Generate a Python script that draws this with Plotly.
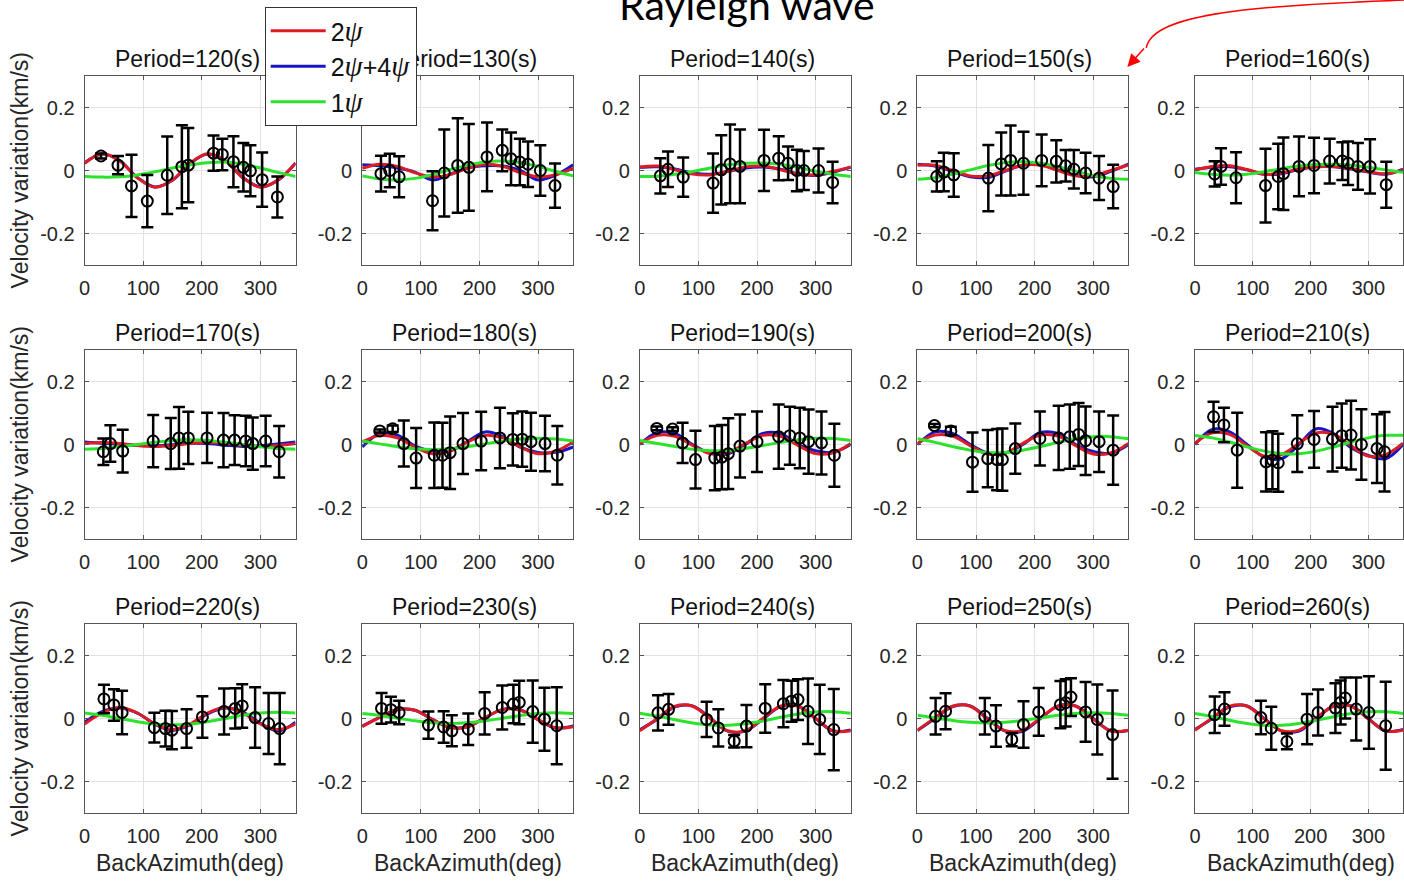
import plotly.graph_objects as go

W, H = 1404, 881

PERIODS = [120, 130, 140, 150, 160, 170, 180, 190, 200, 210, 220, 230, 240, 250, 260]
CURVE_BAZ = [0, 30, 60, 90, 120, 150, 180, 210, 240, 270, 300, 330, 360]
X_TICKS = [0, 100, 200, 300]
Y_TICKS = [-0.2, 0, 0.2]
Y_TICK_TEXT = ["-0.2", "0", "0.2"]

# ---- measured points: back azimuth (deg), velocity variation (km/s), error (km/s)
baz_120 = [28, 57, 80, 107, 141, 166, 177, 220, 235, 254, 271, 283, 303, 329]
dv_120 = [0.046, 0.017, -0.049, -0.097, -0.015, 0.012, 0.017, 0.055, 0.051, 0.028, 0.01, -0.001, -0.029, -0.084]
err_120 = [0.008, 0.029, 0.099, 0.083, 0.123, 0.132, 0.118, 0.056, 0.05, 0.081, 0.077, 0.081, 0.086, 0.065]

baz_130 = [32, 47, 63, 120, 140, 163, 182, 213, 239, 254, 269, 283, 304, 329]
dv_130 = [-0.01, 0.0, -0.02, -0.096, -0.008, 0.016, 0.01, 0.043, 0.064, 0.037, 0.027, 0.02, 0.0, -0.048]
err_130 = [0.057, 0.053, 0.065, 0.094, 0.138, 0.15, 0.138, 0.109, 0.066, 0.084, 0.074, 0.072, 0.08, 0.07]

baz_140 = [35, 48, 74, 125, 139, 154, 171, 212, 237, 253, 268, 280, 305, 329]
dv_140 = [-0.017, 0.004, -0.021, -0.04, 0.002, 0.021, 0.013, 0.032, 0.039, 0.023, 0.0, 0.0, 0.0, -0.038]
err_140 = [0.056, 0.056, 0.062, 0.094, 0.11, 0.125, 0.117, 0.097, 0.07, 0.053, 0.066, 0.062, 0.07, 0.066]

baz_150 = [33, 45, 62, 121, 143, 159, 181, 212, 237, 253, 267, 287, 310, 334]
dv_150 = [-0.019, -0.005, -0.014, -0.024, 0.021, 0.032, 0.023, 0.032, 0.029, 0.015, 0.004, -0.008, -0.024, -0.051]
err_150 = [0.048, 0.061, 0.069, 0.105, 0.1, 0.111, 0.1, 0.082, 0.067, 0.05, 0.061, 0.064, 0.07, 0.069]

baz_160 = [34, 45, 71, 122, 144, 153, 180, 206, 233, 255, 265, 282, 303, 331]
dv_160 = [-0.011, 0.013, -0.023, -0.048, -0.019, -0.01, 0.013, 0.016, 0.03, 0.03, 0.023, 0.013, 0.013, -0.045]
err_160 = [0.04, 0.058, 0.081, 0.117, 0.104, 0.115, 0.095, 0.088, 0.071, 0.06, 0.069, 0.074, 0.086, 0.073]

baz_170 = [32, 44, 65, 117, 147, 161, 177, 209, 237, 256, 275, 287, 309, 332]
dv_170 = [-0.023, 0.003, -0.021, 0.011, 0.003, 0.021, 0.021, 0.021, 0.014, 0.014, 0.011, 0.003, 0.011, -0.023]
err_170 = [0.042, 0.058, 0.068, 0.083, 0.081, 0.098, 0.083, 0.08, 0.086, 0.079, 0.08, 0.083, 0.08, 0.082]

baz_180 = [30, 52, 71, 92, 123, 137, 150, 172, 203, 235, 257, 273, 288, 312, 333]
dv_180 = [0.043, 0.05, 0.003, -0.043, -0.034, -0.034, -0.026, 0.003, 0.011, 0.021, 0.016, 0.017, 0.009, 0.003, -0.034]
err_180 = [0.005, 0.01, 0.073, 0.095, 0.104, 0.103, 0.115, 0.097, 0.093, 0.096, 0.083, 0.088, 0.092, 0.088, 0.093]

baz_190 = [29, 56, 73, 95, 128, 140, 151, 171, 200, 237, 256, 273, 288, 310, 332]
dv_190 = [0.051, 0.049, 0.005, -0.048, -0.043, -0.04, -0.029, -0.005, 0.009, 0.025, 0.028, 0.021, 0.009, 0.005, -0.034]
err_190 = [0.006, 0.006, 0.064, 0.092, 0.102, 0.102, 0.112, 0.1, 0.096, 0.102, 0.092, 0.096, 0.102, 0.1, 0.1]

baz_200 = [29, 57, 94, 120, 136, 145, 167, 209, 241, 260, 275, 287, 310, 334]
dv_200 = [0.06, 0.043, -0.056, -0.045, -0.048, -0.048, -0.013, 0.019, 0.021, 0.025, 0.032, 0.012, 0.009, -0.018]
err_200 = [0.005, 0.013, 0.094, 0.091, 0.097, 0.099, 0.08, 0.086, 0.102, 0.102, 0.1, 0.109, 0.096, 0.11]

baz_210 = [32, 50, 73, 123, 134, 144, 177, 206, 238, 254, 270, 288, 315, 328]
dv_210 = [0.088, 0.062, -0.018, -0.055, -0.05, -0.058, 0.003, 0.016, 0.017, 0.028, 0.03, 0.0, -0.013, -0.023]
err_210 = [0.048, 0.055, 0.119, 0.094, 0.092, 0.092, 0.09, 0.09, 0.103, 0.102, 0.109, 0.112, 0.109, 0.126]

baz_220 = [33, 50, 64, 119, 138, 149, 174, 201, 238, 257, 269, 291, 314, 333]
dv_220 = [0.062, 0.043, 0.019, -0.029, -0.032, -0.037, -0.032, 0.005, 0.022, 0.032, 0.04, 0.003, -0.016, -0.032]
err_220 = [0.045, 0.05, 0.069, 0.047, 0.057, 0.061, 0.061, 0.066, 0.073, 0.064, 0.069, 0.096, 0.097, 0.113]

baz_230 = [33, 49, 63, 113, 139, 153, 181, 209, 239, 258, 268, 291, 311, 332]
dv_230 = [0.032, 0.028, 0.019, -0.021, -0.027, -0.039, -0.034, 0.016, 0.035, 0.046, 0.051, 0.022, -0.002, -0.023]
err_230 = [0.049, 0.041, 0.037, 0.043, 0.05, 0.049, 0.05, 0.067, 0.07, 0.061, 0.069, 0.099, 0.1, 0.122]

baz_240 = [31, 49, 114, 134, 161, 182, 214, 245, 259, 270, 287, 307, 331]
dv_240 = [0.018, 0.029, -0.003, -0.03, -0.072, -0.024, 0.032, 0.047, 0.055, 0.06, 0.023, -0.003, -0.035]
err_240 = [0.056, 0.049, 0.056, 0.059, 0.02, 0.067, 0.077, 0.075, 0.065, 0.065, 0.104, 0.11, 0.129]

baz_250 = [31, 48, 115, 134, 161, 181, 207, 244, 253, 262, 287, 307, 333]
dv_250 = [0.007, 0.023, 0.007, -0.024, -0.067, -0.019, 0.021, 0.044, 0.05, 0.068, 0.021, -0.003, -0.051]
err_250 = [0.058, 0.057, 0.058, 0.066, 0.021, 0.074, 0.076, 0.075, 0.075, 0.06, 0.095, 0.111, 0.14]

baz_260 = [34, 51, 114, 132, 159, 194, 213, 243, 252, 260, 279, 301, 330]
dv_260 = [0.012, 0.03, 0.003, -0.031, -0.073, -0.002, 0.019, 0.033, 0.051, 0.065, 0.03, 0.019, -0.023]
err_260 = [0.058, 0.053, 0.053, 0.068, 0.025, 0.08, 0.073, 0.079, 0.07, 0.065, 0.1, 0.115, 0.14]

# ---- fitted curves read at CURVE_BAZ: 2psi (red), 2psi+4psi (blue), 1psi (green)
fit2_120 = [0.023, 0.053, 0.03, -0.023, -0.053, -0.03, 0.023, 0.053, 0.03, -0.023, -0.053, -0.03, 0.023]
fit24_120 = [0.024, 0.052, 0.031, -0.022, -0.052, -0.031, 0.022, 0.052, 0.031, -0.022, -0.052, -0.031, 0.024]
fit1_120 = [-0.019, -0.021, -0.02, -0.014, -0.004, 0.008, 0.018, 0.025, 0.027, 0.02, 0.008, -0.006, -0.019]

fit2_130 = [0.007, 0.02, 0.013, -0.007, -0.02, -0.013, 0.007, 0.02, 0.013, -0.007, -0.02, -0.013, 0.007]
fit24_130 = [0.018, 0.015, 0.008, -0.005, -0.03, -0.012, 0.008, 0.015, 0.014, 0.0, -0.03, -0.015, 0.018]
fit1_130 = [-0.017, -0.027, -0.03, -0.025, -0.013, 0.003, 0.017, 0.027, 0.03, 0.025, 0.013, -0.003, -0.017]

fit2_140 = [0.0115, 0.014, 0.0026, -0.0115, -0.014, -0.0026, 0.0115, 0.014, 0.0026, -0.0115, -0.014, -0.0026, 0.0115]
fit24_140 = [0.01, 0.012, 0.005, -0.008, -0.012, -0.003, 0.008, 0.011, 0.004, -0.01, -0.016, -0.005, 0.01]
fit1_140 = [-0.019, -0.018, -0.012, -0.003, 0.008, 0.018, 0.023, 0.024, 0.02, 0.01, -0.002, -0.012, -0.019]

fit2_150 = [0.017, 0.017, 0.0, -0.017, -0.017, 0.0, 0.017, 0.017, 0.0, -0.017, -0.017, 0.0, 0.017]
fit24_150 = [0.02, 0.014, -0.003, -0.02, -0.022, -0.002, 0.017, 0.018, 0.002, -0.015, -0.02, -0.003, 0.02]
fit1_150 = [-0.028, -0.023, -0.012, 0.002, 0.016, 0.025, 0.028, 0.023, 0.012, -0.002, -0.016, -0.025, -0.028]

fit2_160 = [0.002, 0.013, 0.015, 0.003, -0.012, -0.008, 0.005, 0.012, 0.013, 0.006, -0.004, -0.01, 0.002]
fit24_160 = [0.004, 0.01, 0.012, 0.002, -0.012, -0.01, 0.004, 0.012, 0.012, 0.005, -0.005, -0.012, 0.004]
fit1_160 = [-0.006, -0.012, -0.015, -0.012, -0.004, 0.006, 0.014, 0.019, 0.02, 0.017, 0.01, 0.002, -0.006]

fit2_170 = [0.003, 0.006, 0.003, -0.003, -0.006, -0.003, 0.003, 0.006, 0.003, -0.003, -0.006, -0.003, 0.003]
fit24_170 = [0.008, 0.004, 0.001, -0.003, -0.004, -0.001, 0.004, 0.003, -0.002, -0.006, -0.004, 0.002, 0.008]
fit1_170 = [-0.015, -0.013, -0.0075, 0.0, 0.0075, 0.013, 0.015, 0.013, 0.0075, 0.0, -0.0075, -0.013, -0.015]

fit2_180 = [0.008, 0.029, 0.021, -0.008, -0.029, -0.021, 0.008, 0.029, 0.021, -0.008, -0.029, -0.021, 0.008]
fit24_180 = [-0.008, 0.035, 0.03, -0.005, -0.02, -0.02, 0.01, 0.04, 0.025, -0.008, -0.025, -0.025, -0.008]
fit1_180 = [0.011, 0.002, -0.007, -0.0136, -0.016, -0.0136, -0.007, 0.002, 0.011, 0.0176, 0.02, 0.0176, 0.011]

fit2_190 = [0.003, 0.029, 0.026, -0.003, -0.029, -0.026, 0.003, 0.029, 0.026, -0.003, -0.029, -0.026, 0.003]
fit24_190 = [0.0, 0.038, 0.035, 0.0, -0.028, -0.03, 0.0, 0.035, 0.035, 0.0, -0.02, -0.025, 0.0]
fit1_190 = [0.013, 0.0035, -0.0068, -0.015, -0.0197, -0.0188, -0.0129, -0.0035, 0.0068, 0.0153, 0.0197, 0.0188, 0.013]

fit2_200 = [0.0035, 0.03, 0.027, -0.0035, -0.03, -0.027, 0.0035, 0.03, 0.027, -0.0035, -0.03, -0.027, 0.0035]
fit24_200 = [0.0, 0.04, 0.035, 0.0, -0.027, -0.027, 0.0, 0.038, 0.035, 0.0, -0.022, -0.028, 0.0]
fit1_200 = [0.018, 0.0067, -0.0067, -0.018, -0.025, -0.025, -0.018, -0.0067, 0.0067, 0.018, 0.025, 0.025, 0.018]

fit2_210 = [0.004, 0.037, 0.032, -0.004, -0.037, -0.032, 0.004, 0.037, 0.032, -0.004, -0.037, -0.032, 0.004]
fit24_210 = [0.0, 0.048, 0.04, 0.0, -0.04, -0.045, 0.0, 0.05, 0.035, -0.01, -0.035, -0.045, 0.0]
fit1_210 = [0.029, 0.021, 0.0078, -0.0078, -0.021, -0.029, -0.029, -0.021, -0.0078, 0.0078, 0.021, 0.029, 0.029]

fit2_220 = [-0.0175, 0.0175, 0.035, 0.0175, -0.0175, -0.035, -0.0175, 0.0175, 0.035, 0.0175, -0.0175, -0.035, -0.0175]
fit24_220 = [-0.012, 0.022, 0.033, 0.017, -0.018, -0.038, -0.02, 0.015, 0.033, 0.02, -0.015, -0.04, -0.012]
fit1_220 = [0.0173, 0.01, 0.0, -0.01, -0.0173, -0.02, -0.0173, -0.01, 0.0, 0.01, 0.0173, 0.02, 0.0173]

fit2_230 = [-0.026, 0.0034, 0.029, 0.026, -0.0034, -0.029, -0.026, 0.0034, 0.029, 0.026, -0.0034, -0.029, -0.026]
fit24_230 = [-0.024, 0.004, 0.028, 0.026, -0.003, -0.028, -0.026, 0.003, 0.029, 0.027, -0.004, -0.03, -0.024]
fit1_230 = [0.0157, 0.0095, 0.001, -0.0075, -0.0137, -0.016, -0.0137, -0.0075, 0.001, 0.0095, 0.0157, 0.018, 0.0157]

fit2_240 = [-0.039, 0.0, 0.039, 0.039, 0.0, -0.039, -0.039, 0.0, 0.039, 0.039, 0.0, -0.039, -0.039]
fit24_240 = [-0.036, -0.002, 0.037, 0.04, 0.002, -0.04, -0.04, -0.002, 0.038, 0.04, 0.0, -0.04, -0.036]
fit1_240 = [0.0169, 0.0075, -0.0038, -0.0141, -0.0207, -0.0217, -0.0169, -0.0075, 0.0038, 0.0141, 0.0207, 0.0217, 0.0169]

fit2_250 = [-0.037, 0.002, 0.039, 0.039, -0.002, -0.039, -0.037, 0.002, 0.039, 0.039, -0.002, -0.039, -0.037]
fit24_250 = [-0.038, 0.0, 0.038, 0.04, 0.0, -0.04, -0.04, 0.0, 0.04, 0.04, 0.0, -0.04, -0.038]
fit1_250 = [0.01, 0.002, -0.006, -0.0119, -0.014, -0.0119, -0.006, 0.002, 0.01, 0.0159, 0.018, 0.0159, 0.01]

fit2_260 = [-0.037, 0.002, 0.039, 0.039, -0.002, -0.039, -0.037, 0.002, 0.039, 0.039, -0.002, -0.039, -0.037]
fit24_260 = [-0.035, 0.0, 0.037, 0.04, 0.0, -0.04, -0.04, 0.0, 0.04, 0.04, 0.0, -0.04, -0.035]
fit1_260 = [0.0156, 0.0057, -0.0057, -0.0156, -0.0213, -0.0213, -0.0156, -0.0057, 0.0057, 0.0156, 0.0213, 0.0213, 0.0156]

PSI = '<span style="font-family:Liberation Serif;font-style:italic;font-size:29px">ψ</span>'
SERIES_NAMES = [f"2{PSI}", f"2{PSI}+4{PSI}", f"1{PSI}"]

# ---- styling / layout constants
RED = "rgb(222,28,36)"
BLUE = "rgb(22,22,196)"
GREEN = "rgb(44,226,44)"
FONT = "Liberation Sans, Arial, sans-serif"
AXIS_COLOR = "#555555"
GRID_COLOR = "#e2e2e2"
COL_LEFT = [79, 358, 637, 916, 1195]
ROW_TOP = [76, 350, 624]
PW, PH = 212, 189

g = globals()
fig = go.Figure()
layout_axes = {}
annotations = []

for i, p in enumerate(PERIODS):
    r, c = divmod(i, 5)
    sfx = "" if i == 0 else str(i + 1)
    xa, ya = "x" + sfx, "y" + sfx
    baz, dv, err = g[f"baz_{p}"], g[f"dv_{p}"], g[f"err_{p}"]
    f2, f24, f1 = g[f"fit2_{p}"], g[f"fit24_{p}"], g[f"fit1_{p}"]

    for name, vals, color, rank in [(SERIES_NAMES[1], f24, BLUE, 2),
                                    (SERIES_NAMES[0], f2, RED, 1),
                                    (SERIES_NAMES[2], f1, GREEN, 3)]:
        fig.add_trace(go.Scatter(
            x=CURVE_BAZ, y=vals, mode="lines", name=name, legendgroup=name,
            legendrank=rank, showlegend=(i == 0),
            line=dict(color=color, width=3, shape="spline", smoothing=1.0),
            xaxis=xa, yaxis=ya, hoverinfo="skip"))

    fig.add_trace(go.Scatter(
        x=baz, y=dv, mode="markers", showlegend=False,
        marker=dict(symbol="circle-open", size=11, color="black", line=dict(width=2, color="black")),
        error_y=dict(type="data", array=err, visible=True, color="black", thickness=2.5, width=6),
        xaxis=xa, yaxis=ya))

    x0 = COL_LEFT[c] / W
    x1 = min(1.0, (COL_LEFT[c] + PW) / W)
    y1 = 1 - ROW_TOP[r] / H
    y0 = 1 - (ROW_TOP[r] + PH) / H

    common = dict(showline=True, linecolor=AXIS_COLOR, linewidth=1, mirror="allticks",
                  ticks="inside", ticklen=4, tickcolor=AXIS_COLOR, showgrid=True,
                  gridcolor=GRID_COLOR, gridwidth=1, zeroline=False,
                  tickfont=dict(family=FONT, size=20, color="#262626"), fixedrange=True)
    layout_axes["xaxis" + sfx] = dict(domain=[x0, x1], anchor=ya, range=[0, 360],
                                      tickvals=X_TICKS, ticklabelstandoff=5, **common)
    layout_axes["yaxis" + sfx] = dict(domain=[y0, y1], anchor=xa, range=[-0.3, 0.3],
                                      tickvals=Y_TICKS, ticktext=Y_TICK_TEXT,
                                      ticklabelstandoff=5, **common)

    annotations.append(dict(text=f"Period={p}(s)", x=(COL_LEFT[c] + PW / 2 - 3) / W,
                            y=1 - (ROW_TOP[r] - 2) / H, xref="paper", yref="paper",
                            xanchor="center", yanchor="bottom", showarrow=False,
                            font=dict(family=FONT, size=23, color="#111111")))

for r in range(3):
    annotations.append(dict(text="Velocity variation(km/s)", x=14 / W,
                            y=1 - (ROW_TOP[r] + PH / 2) / H, xref="paper", yref="paper",
                            xanchor="center", yanchor="middle", textangle=-90, showarrow=False,
                            font=dict(family=FONT, size=23, color="#262626")))
for c in range(5):
    annotations.append(dict(text="BackAzimuth(deg)", x=(COL_LEFT[c] + PW / 2) / W,
                            y=1 - 863 / H, xref="paper", yref="paper",
                            xanchor="center", yanchor="middle", showarrow=False,
                            font=dict(family=FONT, size=23, color="#262626")))

# Figure heading (partly cut off at the top, as in the source image)
annotations.append(dict(text="Rayleigh wave", x=745 / W, y=1 - 31 / H, xref="paper", yref="paper",
                        xanchor="center", yanchor="bottom", showarrow=False,
                        font=dict(family="Lato, Liberation Sans, sans-serif", size=41, color="black")))
# red pointer arrow head
annotations.append(dict(text="", x=1127 / W, y=1 - 67 / H, xref="paper", yref="paper",
                        showarrow=True, ax=18, ay=-20, arrowhead=2, arrowsize=1.7,
                        arrowwidth=1.5, arrowcolor="red"))


def pp(px, py):
    return f"{px / W:.5f},{1 - py / H:.5f}"


shapes = [dict(type="path", xref="paper", yref="paper",
               path=f"M {pp(1406, 0)} C {pp(1260, 6)} {pp(1152, 12)} {pp(1146, 48)}",
               line=dict(color="red", width=1.5))]

fig.update_layout(
    width=W, height=H, margin=dict(l=0, r=0, t=0, b=0),
    paper_bgcolor="white", plot_bgcolor="white",
    font=dict(family=FONT, color="#262626"),
    showlegend=True,
    legend=dict(x=260 / W, y=1 - 7 / H, xanchor="left", yanchor="top",
                bgcolor="white", bordercolor="#333333", borderwidth=1,
                font=dict(family=FONT, size=25, color="#111111"),
                itemwidth=55, tracegroupgap=0, traceorder="normal"),
    annotations=annotations, shapes=shapes,
    **layout_axes)

POST = (
    "document.body.style.margin='0';document.body.style.padding='0';"
    "document.body.style.overflow='hidden';"
    "var gd=document.getElementById('{plot_id}');"
    "var lg=gd.querySelector('g.legend');var svgs=gd.querySelectorAll('svg.main-svg');"
    "if(lg&&svgs.length){svgs[svgs.length-1].appendChild(lg);}"
)

fig.write_html("out.html", config={"displayModeBar": False}, post_script=POST)
